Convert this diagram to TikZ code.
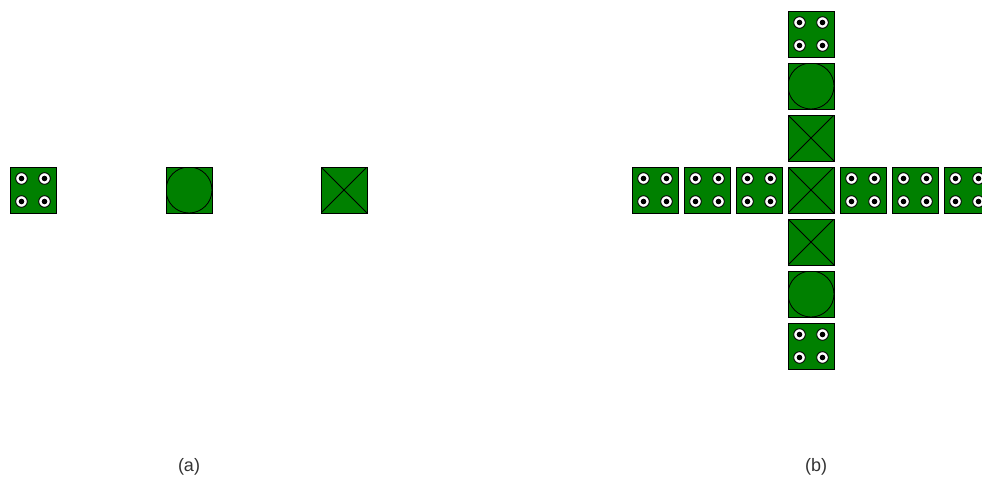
\documentclass[tikz,border=0pt]{standalone}
\usepackage{fontspec}
\setmainfont{Liberation Sans}
\usetikzlibrary{positioning}
\definecolor{tilegreen}{RGB}{0,128,0}
\definecolor{capgray}{RGB}{51,51,51}
\tikzset{
    tile/.style={rectangle, draw, fill=tilegreen, minimum size=46pt, inner sep=0pt, line width=0.8pt},
    tile_pips/.style={tile, path picture={
        \foreach \dx in {-11.5,11.5} \foreach \dy in {-11.5,11.5} {
            \draw[black, fill=white, line width=0.9pt] ([shift={(\dx pt,\dy pt)}]path picture bounding box.center) circle (5.8pt);
            \fill[black] ([shift={(\dx pt,\dy pt)}]path picture bounding box.center) circle (2.8pt);
        }}},
    tile_ring/.style={tile, path picture={
        \draw[line width=0.8pt] (path picture bounding box.center) circle (23pt);}},
    tile_cross/.style={tile, path picture={
        \draw[line width=0.8pt] (path picture bounding box.south west) -- (path picture bounding box.north east)
            (path picture bounding box.north west) -- (path picture bounding box.south east);}},
    caption/.style={text=capgray, font=\fontsize{18}{21}\selectfont, inner sep=0pt}
}
\begin{document}
\begin{tikzpicture}[x=1pt, y=-1pt, node distance=5.2pt and 5.2pt]
    \useasboundingbox (0,0) rectangle (982,479);
    % (a)
    \node (pips_a) [tile_pips] at (33,190) {};
    \node (ring_a) [tile_ring] at (189,190) {};
    \node (cross_a) [tile_cross] at (344,190) {};
    \node (cap_a) [caption] at (189,467) {(a)};

    % (b) column
    \node (cross_b) [tile_cross] at (811,190) {};
    \node (cross_up) [tile_cross, above=of cross_b] {};
    \node (ring_up) [tile_ring, above=of cross_up] {};
    \node (pips_up) [tile_pips, above=of ring_up] {};
    \node (cross_down) [tile_cross, below=of cross_b] {};
    \node (ring_down) [tile_ring, below=of cross_down] {};
    \node (pips_down) [tile_pips, below=of ring_down] {};
    % (b) row
    \node (pips_l1) [tile_pips, left=of cross_b] {};
    \node (pips_l2) [tile_pips, left=of pips_l1] {};
    \node (pips_l3) [tile_pips, left=of pips_l2] {};
    \node (pips_r1) [tile_pips, right=of cross_b] {};
    \node (pips_r2) [tile_pips, right=of pips_r1] {};
    \node (pips_r3) [tile_pips, right=of pips_r2] {};
    \node (cap_b) [caption] at (816,467) {(b)};
\end{tikzpicture}
\end{document}
